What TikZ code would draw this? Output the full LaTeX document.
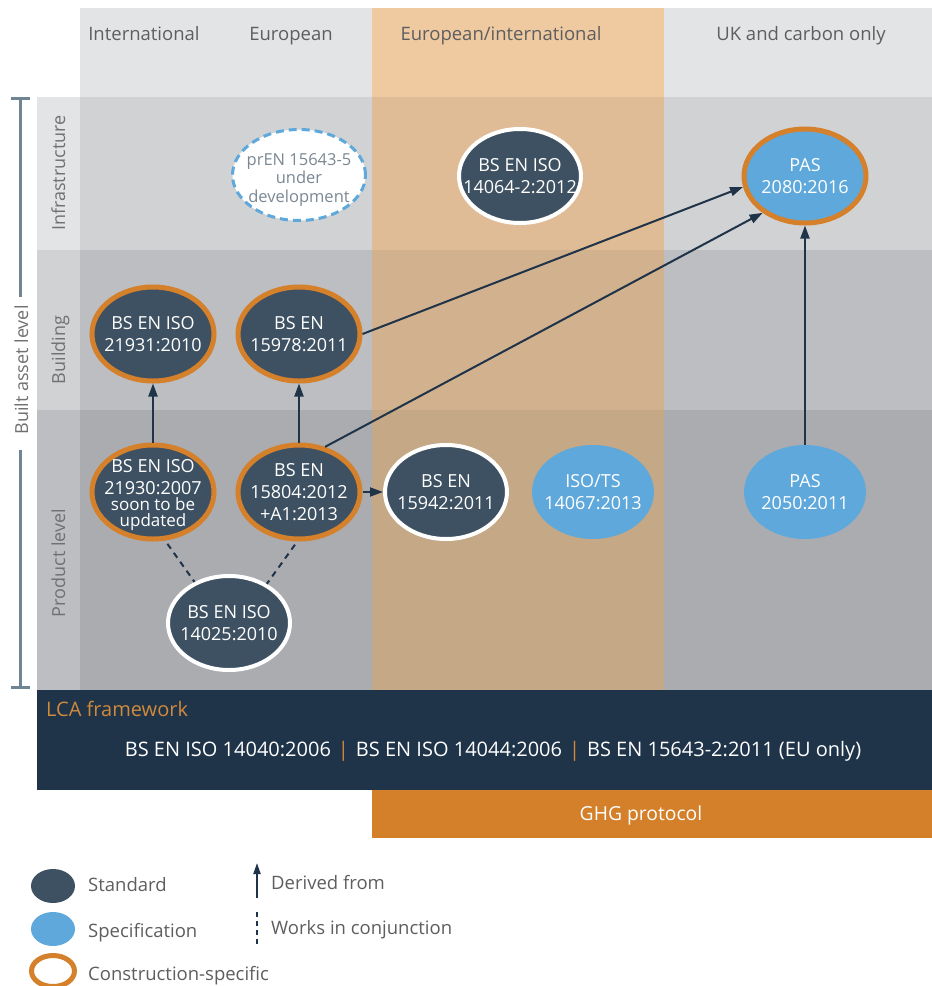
\documentclass[tikz,border=0pt]{standalone}
\usepackage{fontspec}
\setmainfont{Open Sans}
\usetikzlibrary{arrows.meta,shapes.geometric}
\definecolor{hdrbg}{HTML}{E3E4E6}
\definecolor{infbg}{HTML}{D1D2D4}
\definecolor{bldbg}{HTML}{BDBEC2}
\definecolor{prdbg}{HTML}{ABACB0}
\definecolor{ohdr}{HTML}{EFC9A0}
\definecolor{oinf}{HTML}{E0BC96}
\definecolor{obld}{HTML}{D2B18E}
\definecolor{oprd}{HTML}{C5A886}
\definecolor{navy}{HTML}{1F3349}
\definecolor{stdc}{HTML}{3E5162}
\definecolor{specc}{HTML}{5FA8DB}
\definecolor{ringc}{HTML}{D5802A}
\definecolor{ghgc}{HTML}{D47F2A}
\definecolor{otext}{HTML}{D08A3C}
\definecolor{hdrc}{HTML}{5D5E60}
\definecolor{rowc}{HTML}{707173}
\definecolor{axisc}{HTML}{6F8594}
\definecolor{prenc}{HTML}{7B8894}
\begin{document}
\begin{tikzpicture}[x=1pt,y=-1pt,
  ell/.style={ellipse, inner sep=0pt, minimum width=122pt, minimum height=94pt},
  stdn/.style={ell, fill=stdc},
  specn/.style={ell, fill=specc},
  oring/.style={draw=ringc, line width=5pt},
  wring/.style={draw=white, line width=4pt},
  lbl/.style={text=white, align=center, inner sep=0pt, font=\fontsize{18}{22}\selectfont},
  arr/.style={draw=navy, line width=2pt, -{Triangle[length=13pt,width=9pt]}},
  conj/.style={draw=navy, line width=2pt, dash pattern=on 6pt off 5pt},
  hdr/.style={text=hdrc, anchor=base, inner sep=0pt, font=\fontsize{18.5}{22}\selectfont},
  rowl/.style={text=rowc, rotate=90, anchor=base, inner sep=0pt, font=\fontsize{18}{22}\selectfont},
  leg/.style={text=hdrc, anchor=base west, inner sep=0pt, font=\fontsize{18.5}{22}\selectfont},
]
\useasboundingbox (0,0) rectangle (932,986);
\fill[white] (0,0) rectangle (932,986);
% header band
\fill[hdrbg] (80,8) rectangle (932,97);
\fill[ohdr] (372,8) rectangle (664,97);
% infrastructure row
\fill[hdrbg] (37,97) rectangle (80,250);
\fill[infbg] (80,97) rectangle (932,250);
\fill[oinf] (372,97) rectangle (664,250);
% building row
\fill[infbg] (37,250) rectangle (80,410);
\fill[bldbg] (80,250) rectangle (932,410);
\fill[obld] (372,250) rectangle (664,410);
% product row
\fill[bldbg] (37,410) rectangle (80,690);
\fill[prdbg] (80,410) rectangle (932,690);
\fill[oprd] (372,410) rectangle (664,690);
% LCA framework bar
\fill[navy] (37,690) rectangle (932,790);
\fill[ghgc] (372,790) rectangle (932,838);

% headers
\node[hdr] (hInt) at (144,40) {International};
\node[hdr] (hEur) at (291,40) {European};
\node[hdr] (hEI) at (501,40) {European/international};
\node[hdr] (hUK) at (801,40) {UK and carbon only};

% row labels
\node[rowl] (rInf) at (65,173) {Infrastructure};
\node[rowl] (rBld) at (65,350) {Building};
\node[rowl] (rPrd) at (65,563) {Product level};

% built asset level bracket
\draw[axisc, line width=3pt] (11,98.5) -- (30,98.5);
\draw[axisc, line width=3pt] (20,98.5) -- (20,297);
\draw[axisc, line width=3pt] (20,450) -- (20,687);
\draw[axisc, line width=3pt] (11,687) -- (30,687);
\node[rowl] (axLbl) at (28,370) {Built asset level};

% nodes
\node[ell, fill=white, draw=specc, line width=3pt, dash pattern=on 8pt off 5pt,
  minimum width=133pt, minimum height=91pt,
  label={[lbl, text=prenc, yshift=-5pt, font=\fontsize{16.5}{18.5}\selectfont]center:{prEN 15643-5\\under\\development}}]
  (pren) at (299,175) {};
\node[stdn, wring, label={[lbl]center:{BS EN ISO\\14064-2:2012}}] (n14064) at (520,176) {};
\node[specn, oring, label={[lbl]center:{PAS\\2080:2016}}] (pas2080) at (805,176) {};
\node[stdn, oring, label={[lbl]center:{BS EN ISO\\21931:2010}}] (n21931) at (153,334) {};
\node[stdn, oring, label={[lbl]center:{BS EN\\15978:2011}}] (n15978) at (299,334) {};
\node[stdn, oring, label={[lbl, yshift=-3pt]center:{BS EN ISO\\21930:2007\\[-6pt]{\fontsize{17}{15}\selectfont soon to be}\\[-6pt]{\fontsize{17}{15}\selectfont updated}}}] (n21930) at (153,492) {};
\node[stdn, oring, label={[lbl]center:{BS EN\\15804:2012\\+A1:2013}}] (n15804) at (299,492) {};
\node[stdn, wring, label={[lbl]center:{BS EN ISO\\14025:2010}}] (n14025) at (229,623) {};
\node[stdn, wring, label={[lbl]center:{BS EN\\15942:2011}}] (n15942) at (446,492) {};
\node[specn, label={[lbl]center:{ISO/TS\\14067:2013}}] (isots) at (593,492) {};
\node[specn, label={[lbl]center:{PAS\\2050:2011}}] (pas2050) at (805,492) {};

% connectors
\draw[arr] (n21930.north) -- (n21931.south);
\draw[arr] (n15804.north) -- (n15978.south);
\draw[arr] (n15804.east) -- (n15942.west);
\draw[arr] (n15978.east) -- (pas2080.190);
\draw[arr] (n15804.60) -- (pas2080.221);
\draw[arr] (pas2050.north) -- (pas2080.south);
\draw[conj, shorten <=4pt] (n21930.-76) -- (n14025.130);
\draw[conj, shorten <=4pt] (n15804.-92) -- (n14025.46);

% LCA framework text
\node[anchor=base west, inner sep=0pt, text=otext, font=\fontsize{20}{24}\selectfont] (lca) at (46,716) {LCA framework};
\node[anchor=base, inner sep=0pt, text=white, font=\fontsize{20}{24}\selectfont] (lcastd) at (493,756)
  {BS EN ISO 14040:2006\hspace{7pt}\textcolor{otext}{|}\hspace{7pt}BS EN ISO 14044:2006\hspace{7pt}\textcolor{otext}{|}\hspace{7pt}BS EN 15643-2:2011 (EU only)};
\node[anchor=base, inner sep=0pt, text=white, font=\fontsize{19.3}{23}\selectfont] (ghg) at (641,820) {GHG protocol};

% legend
\node[ellipse, inner sep=0pt, fill=stdc, minimum width=44pt, minimum height=34pt] (lgStd) at (53,886) {};
\node[ellipse, inner sep=0pt, fill=specc, minimum width=44pt, minimum height=34pt] (lgSpec) at (53,929) {};
\node[ellipse, inner sep=0pt, fill=white, draw=ringc, line width=5pt, minimum width=43pt, minimum height=31pt] (lgCon) at (53,971) {};
\node[leg] (tStd) at (88,891) {Standard};
\node[leg] (tSpec) at (88,937) {Specification};
\node[leg] (tCon) at (88,980) {Construction-specific};
\coordinate (lgA0) at (257,898);
\coordinate (lgA1) at (257,863);
\draw[draw=navy, line width=2pt, -{Triangle[length=11pt,width=7pt]}] (lgA0) -- (lgA1);
\coordinate (lgD0) at (257,912);
\coordinate (lgD1) at (257,946);
\draw[draw=navy, line width=2pt, dash pattern=on 5pt off 4pt] (lgD0) -- (lgD1);
\node[leg] (tDer) at (271,889) {Derived from};
\node[leg] (tWic) at (271,934) {Works in conjunction};
\end{tikzpicture}
\end{document}
